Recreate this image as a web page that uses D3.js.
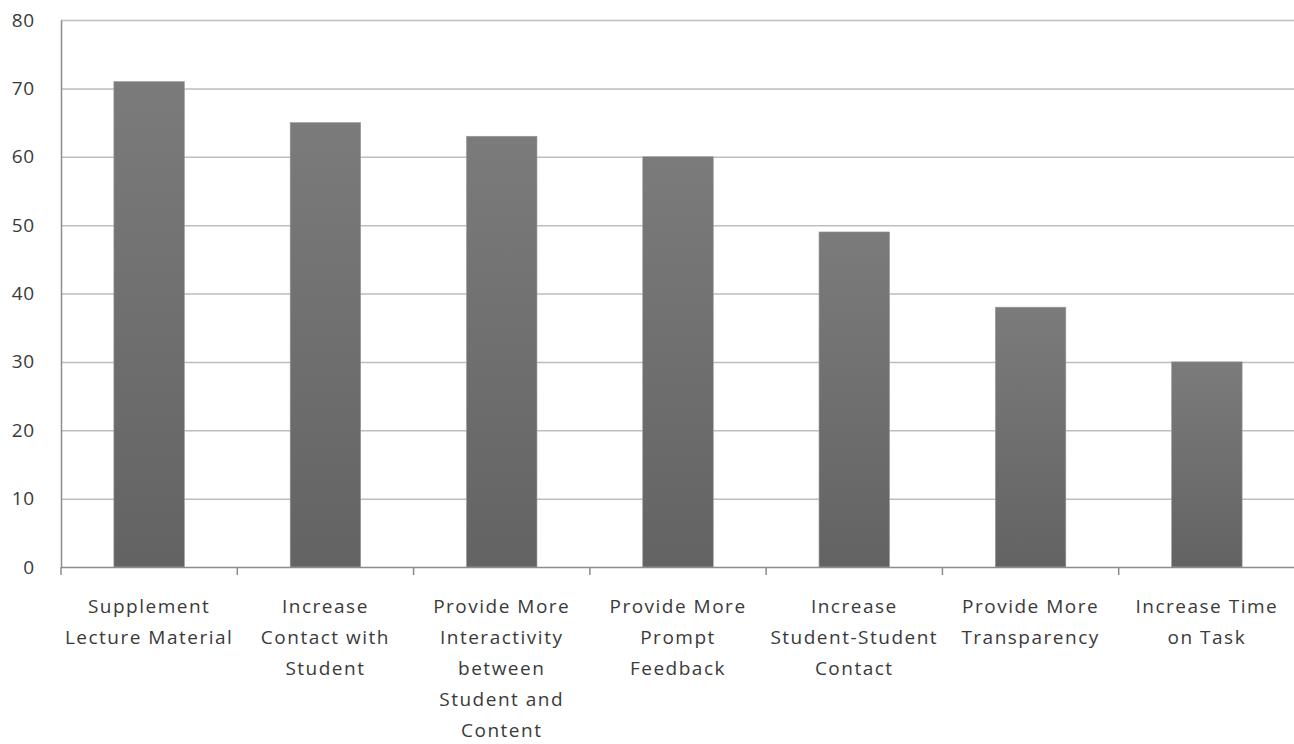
<!DOCTYPE html>
<html><head><meta charset="utf-8">
<script src="https://cdn.jsdelivr.net/npm/d3@7"></script>
<style>body{margin:0;background:#fff;} svg{display:block;}</style>
</head><body>
<svg id="c" width="1294" height="744"></svg>
<script>
const categories = [
  ["Supplement","Lecture Material"],
  ["Increase","Contact with","Student"],
  ["Provide More","Interactivity","between","Student and","Content"],
  ["Provide More","Prompt","Feedback"],
  ["Increase","Student-Student","Contact"],
  ["Provide More","Transparency"],
  ["Increase Time","on Task"]
];
const values = [71, 65, 63, 60, 49, 38, 30];
const yTicks = [0,10,20,30,40,50,60,70,80];

const svg = d3.select("#c");
const mLeft = 61, mRight = 1295, mTop = 20, mBottom = 567;
const font = "'Open Sans', sans-serif";

const defs = svg.append("defs");
const g = defs.append("linearGradient").attr("id","bg").attr("x1",0).attr("x2",0).attr("y1",0).attr("y2",1);
g.append("stop").attr("offset","0%").attr("stop-color","#7b7b7c");
g.append("stop").attr("offset","100%").attr("stop-color","#636364");

const idx = categories.map((d,i)=>i);
const x = d3.scaleBand().domain(idx).range([mLeft,mRight]).paddingInner(0.6).paddingOuter(0.3);
const xb = d3.scaleBand().domain(idx).range([mLeft,mRight]).padding(0);
const y = d3.scaleLinear().domain([0,80]).range([mBottom,mTop]);

// gridlines
svg.append("g").selectAll("line").data(yTicks.filter(t=>t>0)).join("line")
  .attr("x1",mLeft).attr("x2",mRight).attr("y1",d=>y(d)+0.5).attr("y2",d=>y(d)+0.5)
  .attr("stroke","#bdbdbd").attr("stroke-width",1.5);

// bars
svg.append("g").selectAll("rect").data(values).join("rect")
  .attr("x",(d,i)=>x(i)).attr("width",x.bandwidth())
  .attr("y",d=>y(d)).attr("height",d=>mBottom-y(d))
  .attr("fill","url(#bg)").attr("stroke","#9a9a9a").attr("stroke-width",0.6);

// y axis
const yAxis = d3.axisLeft(y).tickValues(yTicks).tickSize(0).tickPadding(26);
const ya = svg.append("g").attr("transform",`translate(${mLeft},0)`).call(yAxis);
ya.select(".domain").attr("stroke","#8c8c8c").attr("stroke-width",1.5);
ya.selectAll("text").attr("font-family",font).attr("font-size",19).attr("fill","#3a3a3a").attr("letter-spacing",0.8);

// x axis
const xa = svg.append("g").attr("transform",`translate(0,${mBottom})`);
xa.append("line").attr("x1",mLeft).attr("x2",mRight).attr("y1",0.5).attr("y2",0.5).attr("stroke","#8c8c8c").attr("stroke-width",1.5);
xa.selectAll("line.tk").data(d3.range(8)).join("line").attr("class","tk")
  .attr("x1",d=>d<7?xb(d):mRight).attr("x2",d=>d<7?xb(d):mRight).attr("y1",0).attr("y2",8)
  .attr("stroke","#8c8c8c").attr("stroke-width",1.5);

const labels = svg.append("g");
categories.forEach((lines,i)=>{
  const t = labels.append("text").attr("text-anchor","middle")
    .attr("font-family",font).attr("font-size",19).attr("fill","#3a3a3a").attr("letter-spacing",1.5);
  lines.forEach((l,j)=>{
    t.append("tspan").attr("x",xb(i)+xb.bandwidth()/2).attr("y",mBottom+46+j*31).text(l);
  });
});
</script>
</body></html>
